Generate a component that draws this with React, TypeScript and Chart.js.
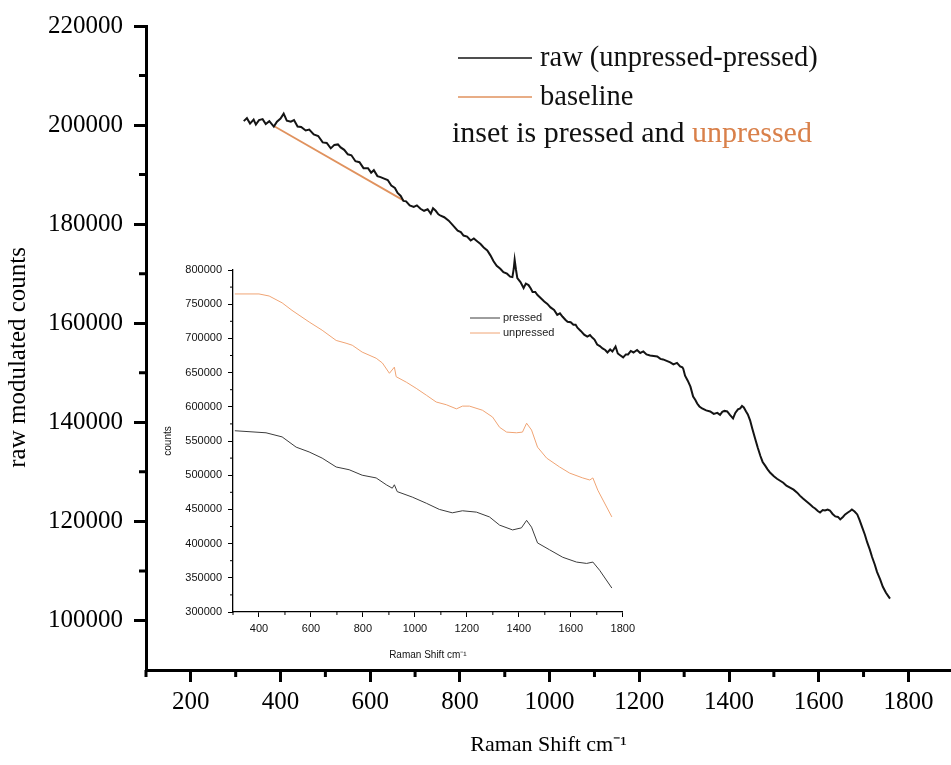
import React, { useEffect, useRef } from "react";
import { Chart, registerables } from "chart.js";
Chart.register(...registerables);

// ---------- main chart data ----------
const rawX = [318,325,332,340,345,352,360,367,375,385,392,400,407,414,423,430,438,446,456,464,474,484,494,503,512,520,528,534,542,550,558,567,576,585,595,602,608,616,623,631,639,647,655,661,668,674,680,688,697,704,712,720,728,735,740,746,752,757,765,775,785,795,802,808,816,824,831,839,846,853,861,868,875,882,890,897,905,912,917,920,922,925,928,935,942,947,953,958,962,968,973,980,988,995,1002,1010,1017,1023,1029,1035,1040,1047,1053,1058,1062,1070,1077,1084,1090,1095,1100,1106,1112,1118,1124,1129,1135,1140,1147,1152,1158,1164,1170,1175,1181,1187,1195,1202,1209,1216,1224,1232,1240,1247,1253,1261,1269,1276,1284,1291,1296,1298,1302,1308,1314,1320,1325,1329,1334,1340,1349,1358,1366,1374,1380,1385,1390,1396,1402,1409,1414,1420,1425,1429,1433,1438,1442,1447,1452,1458,1464,1470,1475,1481,1486,1492,1500,1507,1514,1521,1528,1536,1544,1552,1558,1565,1573,1581,1587,1592,1598,1603,1609,1614,1620,1625,1631,1637,1643,1648,1654,1659,1665,1670,1674,1680,1686,1691,1697,1703,1708,1714,1719,1725,1730,1737,1743,1750,1759];
const rawY = [200800,201400,200300,201100,200100,201000,201200,200200,200800,199700,200700,201300,202300,200900,200700,201000,199700,199600,198900,199100,198100,197800,196500,196400,195300,196000,196100,195500,195000,194100,193900,192700,192500,191300,191300,190400,190900,189700,189500,189200,188900,187800,187300,186300,185700,184700,184600,183800,183500,183800,183100,182700,183000,182100,183200,182700,182000,181700,181400,180700,179700,178700,178400,177700,177500,176700,177100,176500,176000,175300,174700,173700,172500,171600,171000,170300,170000,169400,169300,171000,172800,170800,169100,168300,167100,168000,167700,167000,166300,166300,165700,165100,164400,163900,163200,162700,161700,162000,161300,160700,160300,160200,159700,159700,159100,158400,157700,157300,157600,157100,156700,155700,155400,154900,154600,154100,154700,154300,155300,153900,153500,153100,153700,153700,154400,154100,154600,154000,154300,153700,153500,153400,153300,152800,152700,152400,152100,151700,152000,151300,151100,150800,149400,148400,147200,145200,144500,143800,143200,142800,142400,142200,141700,141900,141500,142100,142300,142200,141500,140800,141900,142600,142800,143300,143000,142200,141600,140400,138700,136800,134900,133200,132000,131200,130500,129800,129100,128600,128200,127800,127200,126800,126400,125800,125200,124600,124000,123400,122900,122600,122100,121800,122300,122200,122400,122200,121500,121000,120900,120400,120900,121400,121800,122100,122400,122000,121400,120300,118800,117300,115800,114300,112800,111300,109800,108300,106800,105600,104400];
const baselineX = [385, 674];
const baselineY = [199800, 184800];

const mainXTicks = [200, 400, 600, 800, 1000, 1200, 1400, 1600, 1800];
const mainXMinor = [100, 300, 500, 700, 900, 1100, 1300, 1500, 1700];
const mainYTicks = [100000, 120000, 140000, 160000, 180000, 200000, 220000];
const mainYMinor = [110000, 130000, 150000, 170000, 190000, 210000];

// ---------- inset data ----------
const unpressedX = [307,400,439,489,527,593,643,697,735,759,797,851,875,902,921,928,967,1005,1044,1082,1121,1160,1183,1210,1260,1299,1326,1353,1391,1414,1430,1449,1472,1507,1557,1596,1646,1673,1685,1704,1758];
const unpressedY = [765000,765000,762000,752000,741000,724000,712000,697000,693000,690000,680000,671000,664000,649000,658000,644000,636000,627000,617000,607000,603000,597000,601000,601000,595000,585000,570000,563000,562000,563000,576000,566000,541000,525000,512000,503000,496000,493000,496000,478000,439000];
const pressedX = [307,427,489,543,593,643,697,747,797,851,890,913,921,932,990,1044,1094,1144,1183,1237,1287,1326,1376,1410,1430,1449,1472,1518,1569,1622,1661,1685,1711,1758];
const pressedY = [565000,562000,556000,541000,534000,525000,512000,508000,500000,496000,486000,481000,486000,476000,468000,459000,450000,445000,448000,446000,439000,427000,420000,423000,434000,424000,401000,391000,380000,373000,371000,373000,361000,335000];

const insetXTicks = [400, 600, 800, 1000, 1200, 1400, 1600, 1800];
const insetXMinor = [300, 500, 700, 900, 1100, 1300, 1500, 1700];
const insetYTicks = [300000, 350000, 400000, 450000, 500000, 550000, 600000, 650000, 700000, 750000, 800000];
const insetYMinor = [325000, 375000, 425000, 475000, 525000, 575000, 625000, 675000, 725000, 775000];

const serif = "'Liberation Serif', 'Times New Roman', serif";
const sans = "'Liberation Sans', Arial, sans-serif";

function minorPlugin(xs: number[], ys: number[], len: number, width: number) {
  return {
    id: "minorTicks",
    afterDraw(chart: any) {
      const { ctx, chartArea, scales } = chart;
      ctx.save();
      ctx.strokeStyle = "#000";
      ctx.lineWidth = width;
      ctx.beginPath();
      xs.forEach((v) => {
        const p = scales.x.getPixelForValue(v);
        ctx.moveTo(p, chartArea.bottom);
        ctx.lineTo(p, chartArea.bottom + len);
      });
      ys.forEach((v) => {
        const p = scales.y.getPixelForValue(v);
        ctx.moveTo(chartArea.left, p);
        ctx.lineTo(chartArea.left - len, p);
      });
      ctx.stroke();
      ctx.restore();
    },
  };
}

function toPts(xs: number[], ys: number[]) {
  return xs.map((x, i) => ({ x, y: ys[i] }));
}

export default function App() {
  const mainRef = useRef<HTMLCanvasElement>(null);
  const insetRef = useRef<HTMLCanvasElement>(null);

  useEffect(() => {
    const mainLegend = {
      id: "mainLegend",
      afterDraw(chart: any) {
        const ctx = chart.ctx;
        const ds = chart.data.datasets;
        const rows = [58, 97];
        ctx.save();
        ctx.font = `28.5px ${serif}`;
        ctx.textBaseline = "middle";
        ds.forEach((d: any, i: number) => {
          ctx.strokeStyle = d.borderColor;
          ctx.lineWidth = 1.6;
          ctx.beginPath();
          ctx.moveTo(458, rows[i]);
          ctx.lineTo(532, rows[i]);
          ctx.stroke();
          ctx.fillStyle = "#111";
          ctx.fillText(d.label, 540, rows[i] + 1);
        });
        ctx.font = `30px ${serif}`;
        const p1 = "inset is pressed and ";
        ctx.fillStyle = "#111";
        ctx.fillText(p1, 452, 134);
        const w = ctx.measureText(p1).width;
        ctx.fillStyle = "#d9804a";
        ctx.fillText("unpressed", 452 + w, 134);
        ctx.restore();
      },
    };

    const main = new Chart(mainRef.current!, {
      type: "line",
      data: {
        datasets: [
          { label: "raw (unpressed-pressed)", data: toPts(rawX, rawY), borderColor: "#141414", borderWidth: 2, pointRadius: 0, tension: 0 },
          { label: "baseline", data: toPts(baselineX, baselineY), borderColor: "#e0925e", borderWidth: 1.8, pointRadius: 0, tension: 0 },
        ],
      },
      options: {
        animation: false,
        responsive: false,
        devicePixelRatio: 1,
        layout: { padding: { top: 21, right: 0, left: 0, bottom: 0 } },
        plugins: { legend: { display: false }, tooltip: { enabled: false } },
        scales: {
          x: {
            type: "linear",
            min: 100,
            max: 1895,
            afterBuildTicks: (s: any) => { s.ticks = mainXTicks.map((v) => ({ value: v })); },
            afterFit: (s: any) => { s.height = 95; },
            grid: { display: true, drawOnChartArea: false, drawTicks: true, tickLength: 12, tickWidth: 3, tickColor: "#000" },
            border: { display: true, color: "#000", width: 3 },
            ticks: { color: "#000", font: { family: serif, size: 25 }, padding: 5, maxRotation: 0, autoSkip: false, callback: (v: any) => String(v) },
            title: { display: true, text: "Raman Shift cm⁻¹", color: "#000", font: { family: serif, size: 22 }, padding: { top: 0, bottom: 7 } },
          },
          y: {
            type: "linear",
            min: 90000,
            max: 220000,
            afterBuildTicks: (s: any) => { s.ticks = mainYTicks.map((v) => ({ value: v })); },
            afterFit: (s: any) => { s.width = 146; },
            grid: { display: true, drawOnChartArea: false, drawTicks: true, tickLength: 12, tickWidth: 3, tickColor: "#000" },
            border: { display: true, color: "#000", width: 3 },
            ticks: { color: "#000", font: { family: serif, size: 25 }, padding: 11, autoSkip: false, callback: (v: any) => String(v) },
            title: { display: true, text: "raw modulated counts   ", color: "#000", font: { family: serif, size: 25 }, padding: { top: 3, bottom: 0 } },
          },
        },
      } as any,
      plugins: [minorPlugin(mainXMinor, mainYMinor, 7, 3), mainLegend],
    });

    const insetLegend = {
      id: "insetLegend",
      afterDraw(chart: any) {
        const ctx = chart.ctx;
        const ds = chart.data.datasets;
        const rows = [68, 83];
        ctx.save();
        ctx.font = `11px ${sans}`;
        ctx.textBaseline = "middle";
        ds.forEach((d: any, i: number) => {
          ctx.strokeStyle = d.borderColor;
          ctx.lineWidth = 1;
          ctx.beginPath();
          ctx.moveTo(320, rows[i]);
          ctx.lineTo(350, rows[i]);
          ctx.stroke();
          ctx.fillStyle = "#222";
          ctx.fillText(d.label, 353, rows[i]);
        });
        ctx.restore();
      },
    };

    const inset = new Chart(insetRef.current!, {
      type: "line",
      data: {
        datasets: [
          { label: "pressed", data: toPts(pressedX, pressedY), borderColor: "#3c3c3c", borderWidth: 1, pointRadius: 0, tension: 0 },
          { label: "unpressed", data: toPts(unpressedX, unpressedY), borderColor: "#f0a474", borderWidth: 1, pointRadius: 0, tension: 0 },
        ],
      },
      options: {
        animation: false,
        responsive: false,
        devicePixelRatio: 1,
        layout: { padding: { top: 20, right: 17, left: 0, bottom: 0 } },
        plugins: { legend: { display: false }, tooltip: { enabled: false } },
        scales: {
          x: {
            type: "linear",
            min: 300,
            max: 1800,
            afterBuildTicks: (s: any) => { s.ticks = insetXTicks.map((v) => ({ value: v })); },
            afterFit: (s: any) => { s.height = 58; },
            grid: { display: true, drawOnChartArea: false, drawTicks: true, tickLength: 5, tickWidth: 1, tickColor: "#000" },
            border: { display: true, color: "#000", width: 1.3 },
            ticks: { color: "#111", font: { family: sans, size: 11 }, padding: 5, maxRotation: 0, autoSkip: false, callback: (v: any) => String(v) },
            title: { display: true, text: "Raman Shift cm⁻¹", color: "#111", font: { family: sans, size: 10 }, padding: { top: 0, bottom: 9 } },
          },
          y: {
            type: "linear",
            min: 300000,
            max: 800000,
            afterBuildTicks: (s: any) => { s.ticks = insetYTicks.map((v) => ({ value: v })); },
            afterFit: (s: any) => { s.width = 83; },
            grid: { display: true, drawOnChartArea: false, drawTicks: true, tickLength: 5, tickWidth: 1, tickColor: "#000" },
            border: { display: true, color: "#000", width: 1.3 },
            ticks: { color: "#111", font: { family: sans, size: 11 }, padding: 6, autoSkip: false, callback: (v: any) => String(v) },
            title: { display: true, text: "counts", color: "#111", font: { family: sans, size: 10 }, padding: { top: 12, bottom: 0 } },
          },
        },
      } as any,
      plugins: [minorPlugin(insetXMinor, insetYMinor, 3, 1), insetLegend],
    });

    return () => {
      main.destroy();
      inset.destroy();
    };
  }, []);

  return (
    <div style={{ position: "absolute", left: 0, top: 0, width: 951, height: 765, background: "#fff", overflow: "hidden" }}>
      <canvas ref={mainRef} width={951} height={765} style={{ position: "absolute", left: 0, top: 0, width: 951, height: 765 }} />
      <canvas ref={insetRef} width={490} height={420} style={{ position: "absolute", left: 150, top: 250, width: 490, height: 420 }} />
    </div>
  );
}
